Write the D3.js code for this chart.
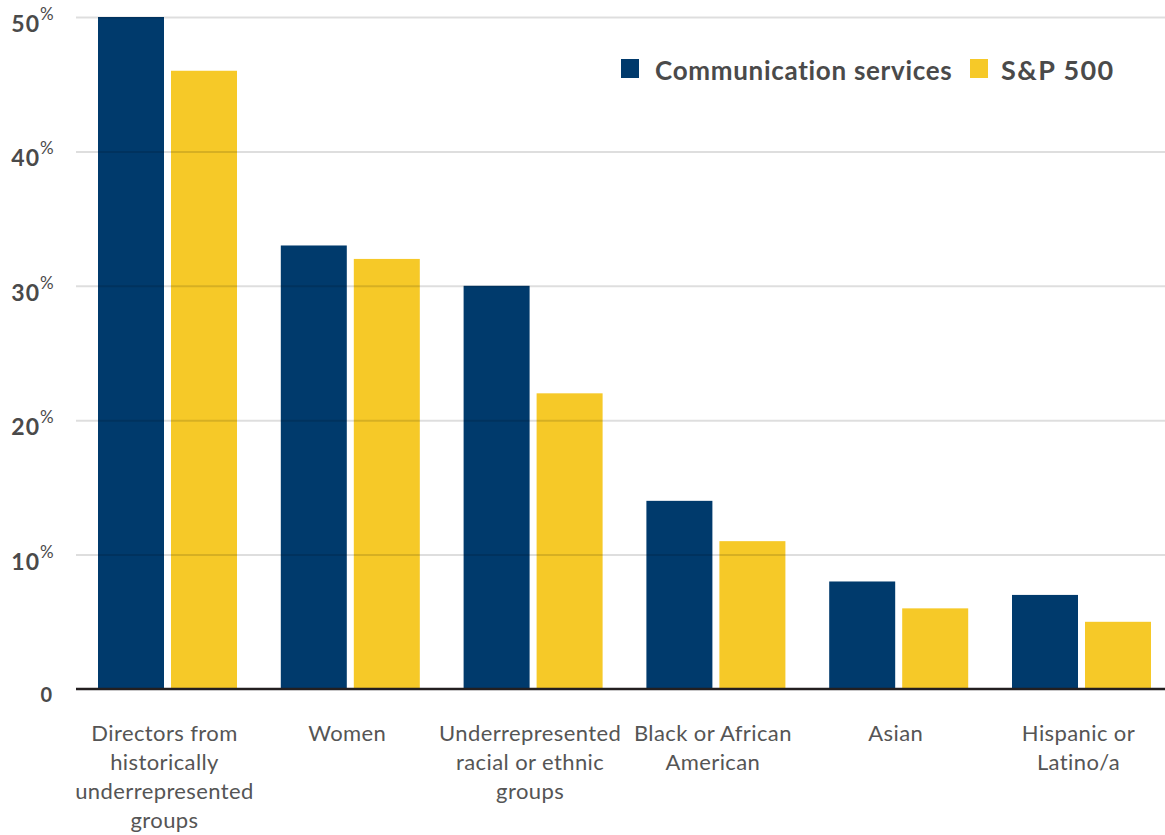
<!DOCTYPE html>
<html><head><meta charset="utf-8">
<script src="https://cdn.jsdelivr.net/npm/d3@7"></script>
<style>html,body{margin:0;padding:0;background:#fff;}svg{display:block;}</style>
</head><body>
<svg id="c" width="1165" height="835"></svg>
<script>
const categories = [
  ["Directors from","historically","underrepresented","groups"],
  ["Women"],
  ["Underrepresented","racial or ethnic","groups"],
  ["Black or African","American"],
  ["Asian"],
  ["Hispanic or","Latino/a"]
];
const seriesNames = ["Communication services","S&P 500"];
const commServices = [50, 33, 30, 14, 8, 7];
const sp500 = [46, 32, 22, 11, 6, 5];
const yTicks = [0, 10, 20, 30, 40, 50];
const colors = ["#003a6c", "#f6c928"];

(function(){
const svg = d3.select("#c");
const pLeft = 76, pRight = 1165, pTop = 17, pBottom = 689;
const font = "Lato, 'Open Sans', sans-serif";

const x0 = d3.scaleBand().domain(d3.range(categories.length)).range([98, 1151]).paddingInner(0.2396).paddingOuter(0);
const x1 = d3.scaleBand().domain([0,1]).range([0, x0.bandwidth()]).paddingInner(0.096);
const y = d3.scaleLinear().domain([0, 50]).range([pBottom, pTop]);

const data = categories.map((c,i)=>({i, vals:[commServices[i], sp500[i]]}));

const g = svg.append("g");
g.selectAll("g.grp").data(data).join("g").attr("class","grp")
  .attr("transform", d=>`translate(${x0(d.i)},0)`)
  .selectAll("rect").data(d=>d.vals.map((v,k)=>({v,k}))).join("rect")
  .attr("x", d=>x1(d.k)).attr("width", x1.bandwidth())
  .attr("y", d=>y(d.v)).attr("height", d=>pBottom - y(d.v))
  .attr("fill", d=>colors[d.k]);

const yAxis = d3.axisLeft(y).tickValues(yTicks.filter(t=>t>0)).tickSize(-(pRight-pLeft)).tickFormat("");
const ga = svg.append("g").attr("transform",`translate(${pLeft},0)`).call(yAxis);
ga.select(".domain").remove();
ga.selectAll(".tick line").attr("stroke","rgba(0,0,0,0.13)").attr("stroke-width",2);

svg.append("line").attr("x1",pLeft).attr("x2",pRight).attr("y1",y(0)).attr("y2",y(0))
  .attr("stroke","#231f20").attr("stroke-width",2.5);

const yl = svg.append("g");
yTicks.forEach(t=>{
  yl.append("text").attr("x", t===0?52:40).attr("y", y(t)+ (t===0?13:15))
    .attr("text-anchor","end").attr("font-family",font).attr("font-weight",700)
    .attr("font-size", t===0?20:23).attr("letter-spacing", t===0?0:1).attr("fill","#4a4a4a").text(t);
  if (t>0) {
    yl.append("text").attr("x",40).attr("y", y(t)+3).attr("font-family",font)
      .attr("font-weight",400).attr("font-size",17).attr("fill","#4a4a4a").text("%");
  }
});

const xl = svg.append("g");
categories.forEach((lines,i)=>{
  const cx = x0(i) + x0.bandwidth()/2 - 3;
  const t = xl.append("text").attr("text-anchor","middle").attr("font-family",font)
    .attr("font-size",22).attr("letter-spacing",0.4).attr("fill","#555");
  lines.forEach((ln,j)=>{
    t.append("tspan").attr("x",cx).attr("y",741 + j*29).text(ln);
  });
});

const leg = [{x:621, tx:655, fs:26, ls:0.7},{x:970, tx:1001, fs:27, ls:1.4}];
seriesNames.forEach((n,k)=>{
  svg.append("rect").attr("x",leg[k].x).attr("y",59).attr("width",18).attr("height",19).attr("fill",colors[k]);
  svg.append("text").attr("x",leg[k].tx).attr("y",80).attr("font-family",font).attr("font-weight",700)
    .attr("font-size",leg[k].fs).attr("letter-spacing",leg[k].ls)
    .attr("fill","#4a4a4a").text(n);
});
})();
</script>
</body></html>
